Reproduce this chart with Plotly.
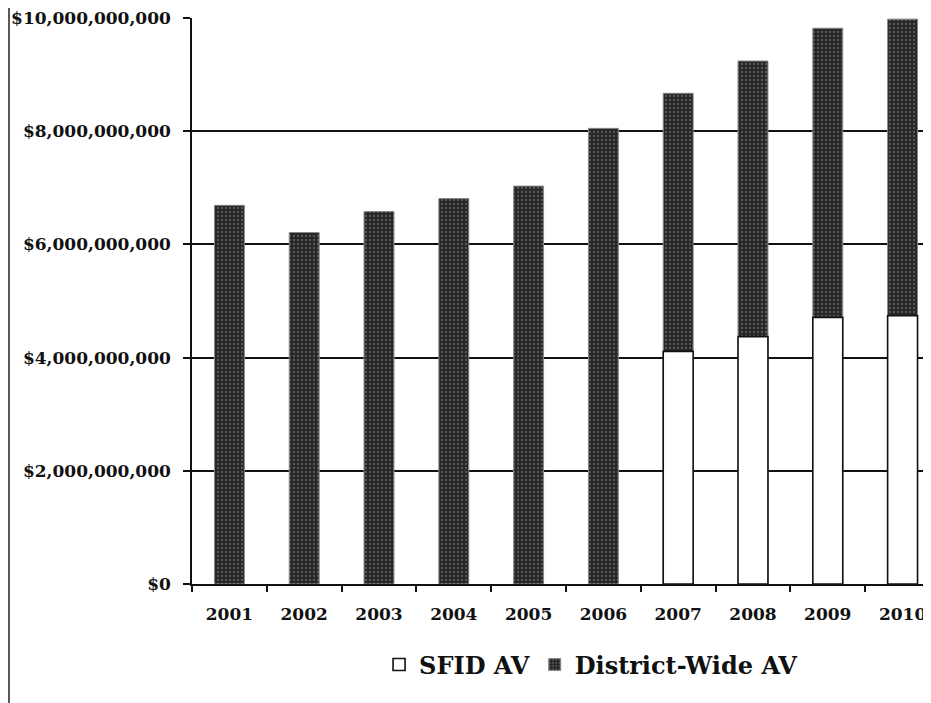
import plotly.graph_objects as go

years = ["2001", "2002", "2003", "2004", "2005", "2006", "2007", "2008", "2009", "2010"]
district_wide_av = [6.69e9, 6.21e9, 6.58e9, 6.81e9, 7.03e9, 8.05e9, 8.67e9, 9.24e9, 9.82e9, 9.98e9]
sfid_av = [None, None, None, None, None, None, 4.11e9, 4.37e9, 4.71e9, 4.74e9]
y_ticks = [0, 2e9, 4e9, 6e9, 8e9, 10e9]
y_tick_labels = ["$0", "$2,000,000,000", "$4,000,000,000", "$6,000,000,000",
                 "$8,000,000,000", "$10,000,000,000"]

tick_font = dict(family="DejaVu Serif", size=17, color="#111", weight="bold")

fig = go.Figure()
fig.add_trace(go.Bar(
    x=years, y=district_wide_av, name="District-Wide AV", width=0.4,
    marker=dict(color="#262626",
                line=dict(color="#888", width=1),
                pattern=dict(shape=".", fgcolor="#8c8c8c", size=4, solidity=0.25)),
))
fig.add_trace(go.Bar(
    x=years, y=sfid_av, name="SFID AV", width=0.4,
    marker=dict(color="white", line=dict(color="#111", width=1.6)),
))

# page has an 8px body margin, so the figure is shrunk and shifted to compensate
plot_w = 923 - 184
fig.add_shape(type="rect", xref="paper", yref="paper",
              x0=-184/plot_w, x1=-182/plot_w, y0=-1, y1=1.1,
              fillcolor="#5a5a5a", line=dict(width=0), layer="below")

fig.update_layout(
    width=923, height=695,
    margin=dict(l=184, r=0, t=10, b=119),
    paper_bgcolor="white", plot_bgcolor="white",
    barmode="overlay",
    showlegend=True,
    legend=dict(orientation="h", x=0.54, xanchor="center", y=-0.143, yanchor="middle",
                traceorder="reversed", itemwidth=30,
                font=dict(family="DejaVu Serif", size=24, color="#111", weight="bold")),
    xaxis=dict(type="category", range=[-0.5, 9.38], tickson="boundaries",
               ticks="outside", ticklen=6, tickcolor="#111", tickwidth=1.5,
               showline=True, linecolor="#111", linewidth=1.6, showgrid=False,
               tickfont=tick_font, ticklabelstandoff=14, ticklabeloverflow="allow"),
    yaxis=dict(range=[0, 10e9], tickvals=y_ticks, ticktext=y_tick_labels,
               ticks="outside", ticklen=7, tickcolor="#111", tickwidth=1.5,
               showline=True, linecolor="#111", linewidth=1.6,
               showgrid=True, gridcolor="#111", gridwidth=1.8,
               zeroline=False, tickfont=tick_font, ticklabelstandoff=9,
               ticklabeloverflow="allow"),
)

fig.write_html("out.html")
